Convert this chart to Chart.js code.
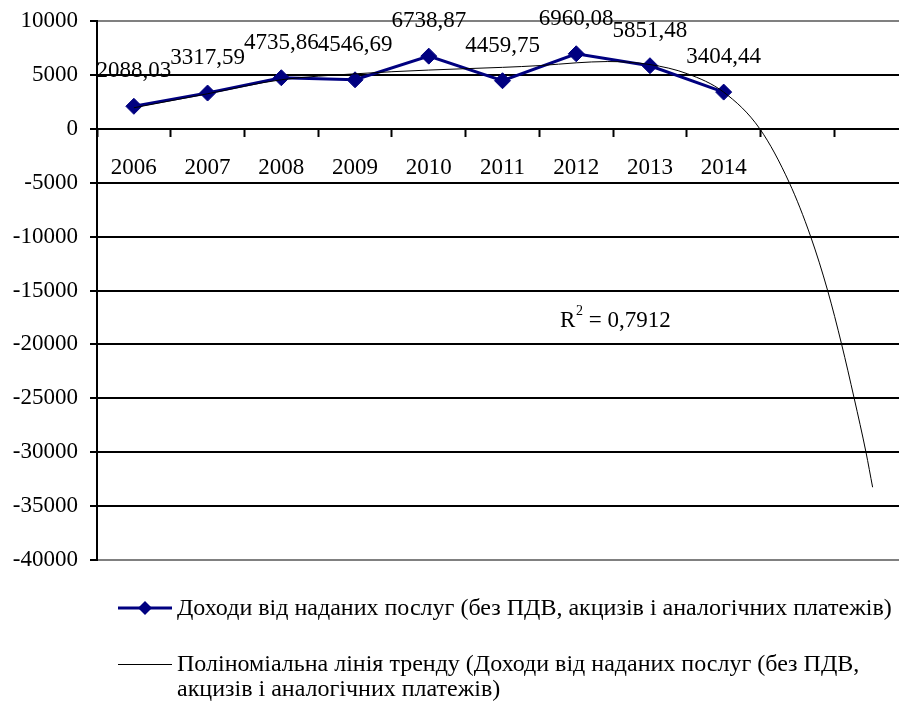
<!DOCTYPE html>
<html>
<head>
<meta charset="utf-8">
<script src="https://cdn.jsdelivr.net/npm/chart.js@4.4.1/dist/chart.umd.min.js"></script>
<style>
  html, body { margin: 0; padding: 0; background: #fff; overflow: hidden; }
  #wrap { position: relative; width: 917px; height: 702px; }
  #myChart { display: block; width: 917px; height: 702px; }
</style>
</head>
<body>
<div id="wrap"><canvas id="myChart" width="917" height="702"></canvas></div>
<script>
// Chart data
const years = ["2006", "2007", "2008", "2009", "2010", "2011", "2012", "2013", "2014", "", ""];
const incomeValues = [2088.03, 3317.59, 4735.86, 4546.69, 6738.87, 4459.75, 6960.08, 5851.48, 3404.44, null, null];
const incomeLabels = ["2088,03", "3317,59", "4735,86", "4546,69", "6738,87", "4459,75", "6960,08", "5851,48", "3404,44"];
// polynomial trend line (x = category index)
const trendX = [0, 1, 2, 3, 4, 5, 5.52, 6, 6.42, 7, 7.51, 8, 8.49, 8.89, 9.18, 9.41, 9.6, 9.77, 9.93, 10.02];
const trendY = [1950, 3250, 4550, 5100, 5450, 5700, 5870, 6120, 6240, 5960, 5100, 3400, 0, -5000, -10000, -15000, -20000, -25000, -30000, -33250];
const yTicks = [10000, 5000, 0, -5000, -10000, -15000, -20000, -25000, -30000, -35000, -40000];

const seriesName = "Доходи від наданих послуг (без ПДВ, акцизів і аналогічних платежів)";
const trendName1 = "Поліноміальна лінія тренду (Доходи від наданих послуг (без ПДВ,";
const trendName2 = "акцизів і аналогічних платежів)";
const rSquared = "0,7912";

const FONT = "Liberation Serif";
const NAVY = "#000080";

// Value labels above the markers
const valueLabels = {
  id: "valueLabels",
  afterDatasetsDraw(chart) {
    const ctx = chart.ctx;
    const meta = chart.getDatasetMeta(1);
    ctx.save();
    ctx.font = "23px '" + FONT + "'";
    ctx.fillStyle = "#000";
    ctx.textAlign = "center";
    ctx.textBaseline = "middle";
    meta.data.forEach((pt, i) => {
      if (incomeValues[i] == null) return;
      ctx.fillText(incomeLabels[i], pt.x, pt.y - 35);
    });
    ctx.restore();
  }
};

// R squared text and the legend below the plot
const extras = {
  id: "extras",
  afterDraw(chart) {
    const ctx = chart.ctx;
    ctx.save();
    ctx.fillStyle = "#000";
    ctx.textBaseline = "middle";
    ctx.textAlign = "left";
    ctx.font = "23px '" + FONT + "'";
    ctx.fillText("R", 560, 321);
    ctx.font = "14px '" + FONT + "'";
    ctx.fillText("2", 576, 311);
    ctx.font = "23px '" + FONT + "'";
    ctx.fillText(" = " + rSquared, 583, 321);

    // legend entry 1
    ctx.strokeStyle = NAVY;
    ctx.lineWidth = 3;
    ctx.beginPath();
    ctx.moveTo(118, 608);
    ctx.lineTo(172, 608);
    ctx.stroke();
    ctx.fillStyle = NAVY;
    ctx.beginPath();
    ctx.moveTo(145, 601);
    ctx.lineTo(152, 608);
    ctx.lineTo(145, 615);
    ctx.lineTo(138, 608);
    ctx.closePath();
    ctx.fill();
    ctx.fillStyle = "#000";
    ctx.font = "24px '" + FONT + "'";
    ctx.fillText(seriesName, 177, 609);

    // legend entry 2
    ctx.strokeStyle = "#000";
    ctx.lineWidth = 1;
    ctx.beginPath();
    ctx.moveTo(118, 664.5);
    ctx.lineTo(172, 664.5);
    ctx.stroke();
    ctx.fillText(trendName1, 177, 665);
    ctx.fillText(trendName2, 177, 690);
    ctx.restore();
  }
};

var ctx = document.getElementById("myChart").getContext("2d");
var myChart = new Chart(ctx, {
  type: "line",
  data: {
    labels: years,
    datasets: [
      {
        label: "trend",
        data: trendX.map((x, i) => ({ x: x, y: trendY[i] })),
        xAxisID: "x2",
        borderColor: "#000",
        borderWidth: 1,
        pointRadius: 0,
        cubicInterpolationMode: "monotone",
        order: 1
      },
      {
        label: seriesName,
        data: incomeValues,
        borderColor: NAVY,
        backgroundColor: NAVY,
        borderWidth: 3,
        pointStyle: "rectRot",
        pointRadius: 8,
        pointBorderWidth: 1,
        tension: 0,
        order: 2
      }
    ]
  },
  options: {
    responsive: false,
    animation: false,
    layout: { padding: { top: 21, bottom: 142, left: 0, right: 0 } },
    plugins: { legend: { display: false }, tooltip: { enabled: false } },
    scales: {
      x: {
        type: "category",
        position: { y: 0 },
        offset: true,
        afterFit: (scale) => { scale.paddingLeft = 0; scale.paddingRight = 0; },
        grid: { offset: true, drawOnChartArea: false, drawTicks: true, tickLength: 7, tickColor: "#000", tickWidth: 2 },
        border: { display: true, color: "#000", width: 2 },
        ticks: { font: { family: FONT, size: 23 }, color: "#000", padding: 18, maxRotation: 0, autoSkip: false }
      },
      x2: {
        type: "linear",
        display: false,
        min: -0.5,
        max: 10.5
      },
      y: {
        min: -40000,
        max: 10000,
        afterBuildTicks: (scale) => { scale.ticks = yTicks.map(v => ({ value: v })); },
        afterFit: (scale) => { scale.width = 97; scale.paddingTop = 0; scale.paddingBottom = 0; },
        grid: {
          color: (c) => (c.tick && (c.tick.value === 10000 || c.tick.value === -40000)) ? "#808080" : "#000",
          lineWidth: 2,
          tickColor: "#000",
          tickLength: 7
        },
        border: { color: "#000", width: 2 },
        ticks: { font: { family: FONT, size: 23 }, color: "#000", padding: 12, callback: (v) => String(v) }
      }
    }
  },
  plugins: [valueLabels, extras]
});
</script>
</body>
</html>
